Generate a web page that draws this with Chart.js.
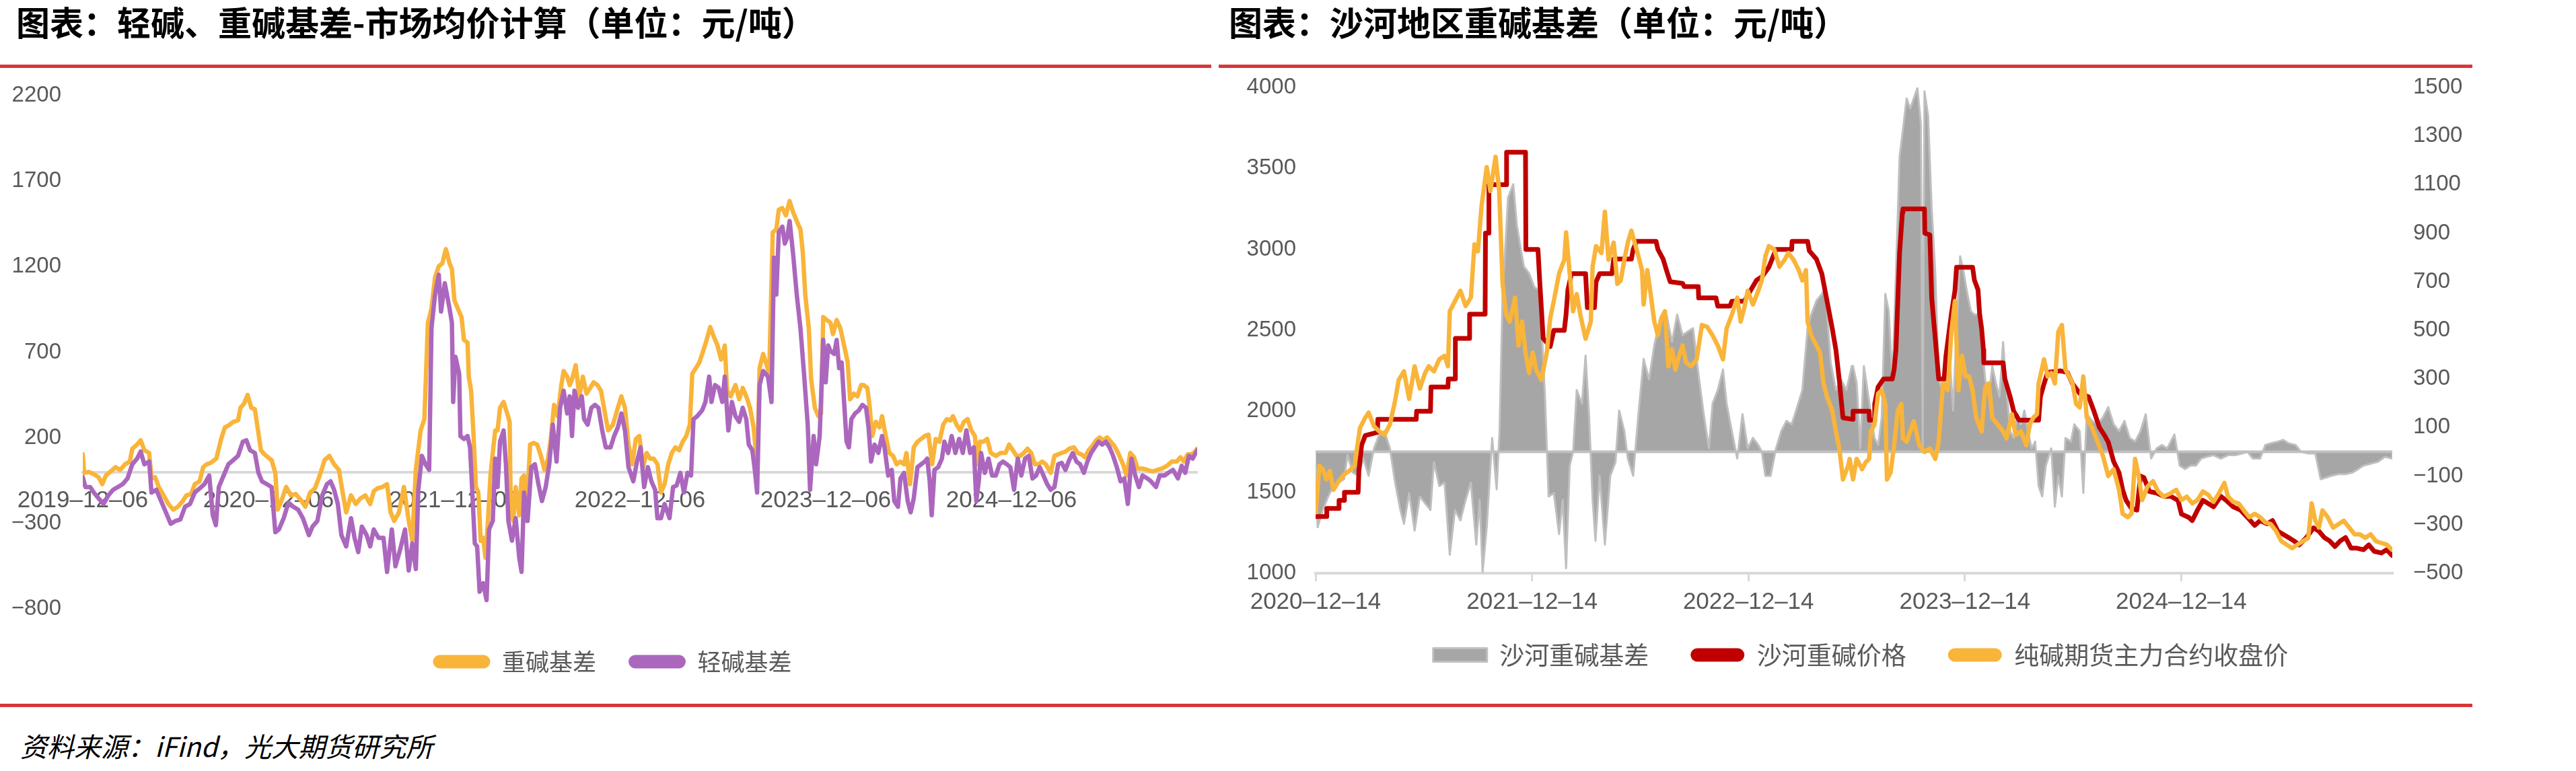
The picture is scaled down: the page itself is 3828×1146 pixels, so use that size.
<!DOCTYPE html>
<html>
<head>
<meta charset="utf-8">
<script src="https://cdn.jsdelivr.net/npm/chart.js@4.4.1/dist/chart.umd.min.js"></script>
<style>
  body { margin: 0; width: 3828px; height: 1146px; background: #fff; position: relative; overflow: hidden; }
  .title { position: absolute; top: 6px; font: bold 50px "Noto Sans CJK SC", sans-serif; color: #000; white-space: nowrap; line-height: 1; }
  .rule { position: absolute; height: 5px; background: #D7373B; }
  .source { position: absolute; left: 30px; top: 1088px; font: italic 40px "Noto Sans CJK SC", sans-serif; color: #000; white-space: nowrap; line-height: 1; }
  canvas { position: absolute; }
</style>
</head>
<body>
<div class="title" style="left:24px">图表：轻碱、重碱基差-市场均价计算（单位：元/吨）</div>
<div class="title" style="left:1826px">图表：沙河地区重碱基差（单位：元/吨）</div>
<div class="rule" style="left:0;top:96px;width:1800px"></div>
<div class="rule" style="left:1811px;top:96px;width:1863px"></div>
<div class="rule" style="left:0;top:1046px;width:3674px"></div>
<canvas id="leftChart" width="1820" height="921" style="left:0;top:90px"></canvas>
<canvas id="rightChart" width="2018" height="924" style="left:1810px;top:78px"></canvas>
<div class="source">资料来源：iFind，光大期货研究所</div>

<script>
// x values are months since the first date of each chart
const leftTickMonths = [0, 12, 24, 36, 48, 60];
const leftTickText = ["2019–12–06", "2020–12–06", "2021–12–06", "2022–12–06", "2023–12–06", "2024–12–06"];
const rightTickMonths = [0, 12, 24, 36, 48];
const rightTickText = ["2020–12–14", "2021–12–14", "2022–12–14", "2023–12–14", "2024–12–14"];

// 重碱基差
const heavyBasis = [[0,103],[0.09,-5],[0.40,0],[0.71,-13],[1.02,-30],[1.26,-71],[1.49,-21],[1.80,3],[2.11,28],[2.42,12],[2.73,45],[3.04,61],[3.20,136],[3.51,160],[3.74,185],[3.98,127],[4.29,111],[4.44,-38],[4.67,-30],[4.91,-88],[5.22,-137],[5.53,-187],[5.84,-220],[6.15,-203],[6.46,-170],[6.69,-137],[7.00,-129],[7.24,-71],[7.55,-55],[7.78,28],[8.01,45],[8.25,53],[8.63,78],[8.94,193],[9.18,260],[9.49,276],[9.72,293],[10.03,301],[10.19,375],[10.42,400],[10.65,450],[10.89,375],[11.12,367],[11.35,227],[11.51,127],[11.74,103],[11.97,86],[12.20,69],[12.44,-5],[12.59,-220],[12.83,-170],[13.14,-88],[13.45,-137],[13.76,-129],[14.07,-162],[14.38,-203],[14.69,-120],[15.00,-96],[15.31,-21],[15.62,69],[15.93,94],[16.24,45],[16.55,12],[16.79,-120],[17.02,-236],[17.33,-137],[17.64,-187],[17.95,-154],[18.26,-137],[18.57,-187],[18.80,-112],[19.04,-96],[19.35,-88],[19.66,-71],[19.89,-236],[20.12,-286],[20.43,-236],[20.75,-88],[21.06,-286],[21.29,-402],[21.52,12],[21.83,243],[22.07,309],[22.30,872],[22.53,954],[22.76,1136],[23.00,1202],[23.23,1219],[23.46,1302],[23.70,1219],[23.85,1186],[24.01,1004],[24.24,954],[24.47,905],[24.63,772],[24.86,756],[24.94,557],[25.09,475],[25.25,210],[25.40,-88],[25.56,-120],[25.71,-402],[25.87,-385],[26.02,-501],[26.18,-286],[26.34,-21],[26.49,111],[26.65,243],[26.80,243],[26.96,375],[27.19,409],[27.42,342],[27.58,293],[27.66,-253],[27.81,-286],[27.97,-88],[28.20,-253],[28.35,-38],[28.51,-21],[28.66,-286],[28.90,160],[29.13,169],[29.36,160],[29.60,94],[29.83,12],[30.06,78],[30.22,177],[30.45,392],[30.68,326],[30.92,508],[31.07,590],[31.30,557],[31.46,508],[31.61,541],[31.85,624],[32.08,442],[32.31,557],[32.55,458],[32.78,491],[33.01,524],[33.25,508],[33.48,475],[33.71,359],[33.94,243],[34.25,276],[34.57,375],[34.80,442],[35.03,375],[35.26,160],[35.50,45],[35.73,193],[35.96,210],[36.20,28],[36.43,111],[36.66,78],[36.89,78],[37.13,45],[37.36,-120],[37.59,-71],[37.83,45],[38.06,111],[38.29,144],[38.53,127],[38.76,177],[38.99,210],[39.22,276],[39.38,574],[39.61,607],[39.84,640],[40.08,706],[40.31,772],[40.54,847],[40.78,789],[41.01,739],[41.24,657],[41.48,739],[41.63,475],[41.86,442],[42.17,508],[42.41,425],[42.64,491],[42.87,442],[43.11,375],[43.34,260],[43.57,45],[43.73,607],[43.96,690],[44.19,624],[44.35,574],[44.58,1401],[44.81,1417],[44.97,1533],[45.20,1542],[45.43,1500],[45.67,1583],[45.90,1517],[46.13,1467],[46.37,1417],[46.52,1285],[46.68,1037],[46.91,839],[47.06,541],[47.30,375],[47.53,326],[47.70,342],[47.84,905],[48.08,888],[48.31,872],[48.47,806],[48.71,888],[48.95,839],[49.11,772],[49.27,706],[49.42,640],[49.58,425],[49.82,458],[50.05,442],[50.29,508],[50.45,508],[50.69,491],[50.85,375],[51.00,210],[51.24,293],[51.48,260],[51.64,326],[51.88,210],[52.11,111],[52.35,94],[52.58,45],[52.82,61],[53.06,45],[53.22,111],[53.45,-71],[53.69,144],[53.93,177],[54.17,193],[54.40,210],[54.64,218],[54.88,45],[55.11,193],[55.35,177],[55.59,276],[55.83,309],[56.06,301],[56.22,326],[56.46,276],[56.69,243],[56.93,293],[57.17,309],[57.41,243],[57.64,210],[57.80,45],[57.96,177],[58.20,177],[58.43,193],[58.67,111],[58.99,94],[59.30,111],[59.62,111],[59.85,160],[60.09,127],[60.33,94],[60.57,94],[60.80,111],[61.04,136],[61.28,111],[61.51,45],[61.75,45],[61.99,61],[62.22,45],[62.54,-5],[62.78,94],[63.02,103],[63.25,111],[63.49,119],[63.73,136],[64.04,144],[64.28,111],[64.52,103],[64.75,86],[64.99,127],[65.23,152],[65.47,185],[65.70,202],[65.94,185],[66.18,202],[66.42,177],[66.65,152],[66.89,111],[67.21,45],[67.44,-21],[67.68,111],[67.92,86],[68.15,20],[68.47,20],[68.79,12],[69.10,3],[69.42,12],[69.73,20],[70.05,36],[70.37,61],[70.68,61],[70.92,86],[71.15,61],[71.39,103],[71.63,103],[71.87,119],[72.00,136]];

// 轻碱基差
const lightBasis = [[0,-30],[0.17,-88],[0.48,-88],[0.71,-120],[1.02,-154],[1.34,-187],[1.65,-137],[1.96,-104],[2.27,-88],[2.58,-71],[2.89,-38],[3.20,45],[3.51,78],[3.74,119],[3.98,45],[4.29,61],[4.44,-120],[4.75,-104],[5.06,-170],[5.37,-236],[5.68,-303],[5.99,-286],[6.30,-278],[6.61,-203],[6.93,-187],[7.24,-120],[7.55,-96],[7.86,-71],[8.17,-21],[8.40,-253],[8.60,-311],[8.79,-88],[9.10,-21],[9.41,45],[9.72,69],[10.03,94],[10.34,177],[10.57,185],[10.81,127],[11.12,111],[11.35,-5],[11.58,-55],[11.89,-71],[12.20,-88],[12.44,-352],[12.67,-336],[12.98,-270],[13.29,-179],[13.60,-203],[13.91,-220],[14.22,-270],[14.61,-369],[14.84,-319],[15.16,-286],[15.47,-137],[15.78,-71],[16.01,-55],[16.24,-104],[16.48,-187],[16.71,-369],[17.02,-435],[17.33,-270],[17.56,-385],[17.80,-468],[18.03,-319],[18.34,-369],[18.57,-435],[18.80,-336],[19.11,-385],[19.43,-385],[19.66,-584],[19.97,-336],[20.20,-551],[20.51,-452],[20.82,-336],[21.06,-576],[21.29,-418],[21.52,-567],[21.68,-104],[21.91,94],[22.14,45],[22.38,12],[22.53,839],[22.76,1037],[23.00,1153],[23.15,938],[23.39,1103],[23.70,954],[23.85,872],[23.93,409],[24.08,673],[24.32,574],[24.40,210],[24.63,193],[24.86,210],[25.02,144],[25.17,-120],[25.33,-418],[25.48,-435],[25.64,-700],[25.87,-650],[26.09,-749],[26.25,-336],[26.49,-286],[26.65,78],[26.80,-88],[26.96,177],[27.19,243],[27.34,45],[27.50,-286],[27.73,-402],[27.97,-270],[28.20,-501],[28.35,-584],[28.51,-120],[28.74,-286],[28.98,28],[29.21,45],[29.44,-71],[29.67,-170],[29.91,-88],[30.14,45],[30.37,276],[30.61,61],[30.84,375],[31.07,475],[31.30,342],[31.46,442],[31.61,210],[31.77,475],[32.00,375],[32.24,442],[32.39,309],[32.62,276],[32.86,375],[33.09,392],[33.32,375],[33.56,243],[33.79,144],[34.10,144],[34.33,210],[34.57,260],[34.80,342],[35.03,243],[35.26,28],[35.57,-55],[35.81,61],[36.04,144],[36.27,-88],[36.51,28],[36.74,-55],[36.98,-104],[37.13,-270],[37.36,-270],[37.59,-187],[37.91,-270],[38.14,-88],[38.37,-79],[38.61,-5],[38.84,-120],[39.07,-5],[39.30,-21],[39.46,309],[39.70,326],[40.01,359],[40.23,409],[40.47,557],[40.62,409],[40.85,508],[41.09,491],[41.32,409],[41.48,557],[41.71,243],[41.94,409],[42.17,326],[42.41,293],[42.64,375],[42.87,309],[43.03,160],[43.26,127],[43.42,12],[43.57,-120],[43.73,508],[43.96,590],[44.27,557],[44.50,409],[44.66,1252],[44.81,1037],[44.97,1401],[45.20,1434],[45.36,1335],[45.51,1368],[45.67,1467],[45.90,1269],[46.13,1037],[46.37,839],[46.60,574],[46.84,276],[46.99,-104],[47.22,210],[47.38,45],[47.61,210],[47.84,772],[48.00,524],[48.16,739],[48.31,706],[48.55,690],[48.71,772],[48.87,607],[49.03,640],[49.19,409],[49.35,177],[49.50,144],[49.66,309],[49.90,342],[50.13,359],[50.37,392],[50.61,375],[50.77,260],[50.93,61],[51.16,160],[51.40,111],[51.64,210],[51.80,144],[52.04,-21],[52.27,12],[52.43,-170],[52.67,-203],[52.83,-38],[53.06,-5],[53.30,-170],[53.49,-236],[53.69,-154],[53.93,28],[54.17,45],[54.40,61],[54.56,78],[54.72,-55],[54.85,-253],[55.03,12],[55.27,28],[55.51,78],[55.67,177],[55.91,111],[56.14,210],[56.38,111],[56.62,193],[56.86,111],[57.09,243],[57.33,111],[57.57,144],[57.73,-170],[57.89,-55],[58.04,111],[58.28,-5],[58.52,78],[58.75,-21],[58.99,-21],[59.23,45],[59.46,61],[59.70,45],[59.93,28],[60.17,-104],[60.41,78],[60.64,-21],[60.88,78],[61.12,94],[61.36,-38],[61.59,-21],[61.83,28],[62.07,-21],[62.31,-71],[62.54,-104],[62.78,-88],[63.02,45],[63.25,53],[63.49,12],[63.73,69],[63.96,111],[64.20,61],[64.44,45],[64.68,-5],[64.91,61],[65.15,111],[65.39,144],[65.63,177],[65.86,160],[66.10,177],[66.34,144],[66.57,94],[66.81,28],[67.05,-55],[67.29,-38],[67.52,-187],[67.76,78],[68.00,-21],[68.24,-88],[68.47,-21],[68.79,-38],[69.02,-55],[69.34,-88],[69.58,-21],[69.89,-21],[70.13,-5],[70.44,12],[70.76,-38],[71.00,36],[71.23,-5],[71.47,94],[71.71,78],[72.00,127]];

// 沙河重碱基差 (right axis)
const shaheBasis = [[0.01,-57],[0.11,-311],[0.40,-240],[0.70,-184],[0.99,-141],[1.28,-127],[1.58,-113],[1.77,-14],[2.06,-85],[2.36,-99],[2.65,-28],[2.94,-99],[3.24,14],[3.53,71],[3.82,85],[4.12,14],[4.41,-127],[4.70,-240],[4.90,-297],[5.19,-170],[5.49,-325],[5.78,-184],[6.07,-212],[6.37,-240],[6.56,-42],[6.86,-141],[7.15,-127],[7.44,-424],[7.73,-240],[8.03,-283],[8.32,-198],[8.61,-127],[8.91,-382],[9.10,-198],[9.26,-495],[9.49,-311],[9.79,57],[10.04,-155],[10.20,85],[10.37,650],[10.67,1046],[10.96,1102],[11.16,933],[11.35,848],[11.55,763],[11.84,735],[12.13,678],[12.43,664],[12.72,226],[12.92,-184],[13.21,-170],[13.50,-339],[13.70,-198],[13.89,-480],[14.09,-57],[14.28,0],[14.48,254],[14.77,198],[14.97,396],[15.16,155],[15.36,-198],[15.52,-367],[15.75,-99],[16.04,-382],[16.34,-99],[16.63,-42],[16.83,170],[17.12,85],[17.31,-28],[17.61,-99],[17.90,155],[18.19,382],[18.49,297],[18.78,438],[19.07,537],[19.46,565],[19.76,452],[20.05,565],[20.35,480],[20.64,495],[20.93,509],[21.22,325],[21.52,155],[21.81,14],[22.01,198],[22.30,254],[22.59,339],[22.79,198],[23.08,85],[23.38,-28],[23.67,155],[23.96,14],[24.25,57],[24.55,28],[24.74,0],[24.94,-99],[25.23,-99],[25.53,14],[25.82,85],[26.11,127],[26.40,113],[26.70,184],[26.99,254],[27.28,509],[27.48,565],[27.77,622],[28.07,650],[28.26,678],[28.56,367],[28.85,254],[29.14,297],[29.43,254],[29.73,353],[29.80,353],[30.00,283],[30.20,14],[30.40,353],[30.60,254],[30.79,155],[30.99,57],[31.19,28],[31.39,141],[31.59,650],[31.78,579],[31.98,297],[32.18,735],[32.38,1215],[32.57,1328],[32.77,1455],[32.97,1413],[33.17,1455],[33.37,1498],[33.56,1350],[33.66,14],[33.76,1484],[33.96,1385],[34.16,1003],[34.36,735],[34.55,297],[34.75,254],[34.95,297],[35.15,396],[35.35,170],[35.54,509],[35.74,805],[35.94,735],[36.14,650],[36.34,579],[36.53,565],[36.73,565],[36.93,466],[37.13,297],[37.33,226],[37.52,353],[37.72,283],[37.92,226],[38.12,452],[38.31,254],[38.51,85],[38.71,57],[38.91,155],[39.11,113],[39.30,170],[39.50,85],[39.70,14],[39.90,42],[40.09,-141],[40.29,-184],[40.49,-57],[40.79,14],[40.99,-226],[41.18,-99],[41.38,-184],[41.58,57],[41.88,42],[42.07,113],[42.37,85],[42.57,-170],[42.76,155],[43.06,127],[43.36,113],[43.65,141],[43.95,184],[44.25,113],[44.55,85],[44.85,127],[45.14,57],[45.44,42],[45.74,85],[46.03,155],[46.33,-28],[46.63,14],[46.92,28],[47.22,14],[47.62,71],[47.91,-57],[48.21,-71],[48.51,-57],[48.81,-57],[49.10,-28],[49.40,-21],[49.79,-14],[50.19,-28],[50.59,-14],[50.98,-14],[51.38,-7],[51.67,0],[51.97,-28],[52.37,-28],[52.66,28],[52.96,35],[53.35,42],[53.65,49],[53.95,35],[54.34,28],[54.64,0],[55.04,-7],[55.43,-7],[55.73,-113],[56.03,-106],[56.32,-99],[56.72,-92],[57.11,-92],[57.51,-85],[57.81,-71],[58.10,-57],[58.50,-49],[58.89,-42],[59.29,-21],[59.69,-28]];

// 沙河重碱价格
const shahePrice = [[0,1350],[0.60,1350],[0.62,1400],[1.28,1400],[1.30,1450],[1.58,1450],[1.60,1500],[2.36,1500],[2.40,1630],[2.55,1790],[2.75,1850],[3.43,1870],[3.45,1950],[5.58,1950],[5.60,2000],[6.37,2000],[6.40,2150],[7.34,2150],[7.36,2200],[7.73,2200],[7.75,2450],[8.52,2450],[8.54,2600],[9.40,2600],[9.42,3100],[9.59,3100],[9.61,3400],[10.57,3400],[10.59,3600],[11.64,3600],[11.66,3000],[12.33,3000],[12.43,2800],[12.62,2450],[13.01,2400],[13.21,2500],[13.79,2500],[13.89,2600],[13.99,2750],[14.19,2850],[14.97,2850],[15.07,2640],[15.46,2640],[15.55,2800],[15.75,2850],[16.43,2850],[16.53,2940],[17.51,2940],[17.61,3000],[17.80,3050],[18.88,3050],[18.98,3000],[19.27,2940],[19.46,2870],[19.66,2800],[20.35,2790],[20.44,2770],[21.22,2770],[21.24,2700],[22.20,2700],[22.30,2650],[22.98,2650],[23.08,2680],[23.77,2680],[24.45,2810],[24.74,2830],[25.13,2890],[25.53,3000],[26.40,3000],[26.42,3050],[27.28,3050],[27.38,2990],[27.77,2940],[28.07,2850],[28.36,2680],[28.65,2510],[28.85,2380],[29.04,2190],[29.24,1960],[29.78,1950],[29.80,2000],[30.69,2000],[30.71,1945],[30.99,1945],[31.00,2045],[31.19,2150],[31.49,2200],[31.98,2200],[32.08,2260],[32.18,2380],[32.38,2980],[32.54,3230],[32.57,3250],[33.76,3250],[33.78,3100],[34.06,3090],[34.16,2700],[34.36,2450],[34.55,2200],[34.85,2200],[34.95,2340],[35.25,2600],[35.45,2745],[35.54,2890],[36.43,2890],[36.53,2810],[36.73,2750],[36.82,2600],[36.93,2510],[37.03,2380],[37.05,2300],[38.12,2300],[38.22,2200],[38.51,2090],[38.71,2000],[39.01,1945],[40.09,1945],[40.19,2090],[40.39,2170],[40.59,2240],[41.28,2250],[41.68,2240],[41.97,2170],[42.37,2110],[42.86,2090],[43.16,2000],[43.46,1900],[43.75,1850],[43.95,1810],[44.25,1690],[44.55,1620],[44.75,1515],[44.94,1450],[45.24,1400],[45.54,1390],[45.74,1600],[45.93,1590],[46.23,1505],[46.63,1495],[47.02,1475],[47.42,1475],[47.82,1450],[48.01,1365],[48.41,1345],[48.61,1325],[48.90,1390],[49.20,1450],[49.50,1430],[49.79,1410],[50.19,1475],[50.49,1450],[50.88,1410],[51.28,1390],[51.67,1345],[52.07,1295],[52.37,1325],[52.76,1305],[53.06,1325],[53.35,1260],[53.65,1240],[53.95,1220],[54.24,1200],[54.54,1175],[54.94,1220],[55.33,1280],[55.63,1260],[55.93,1220],[56.22,1200],[56.52,1165],[56.82,1200],[57.11,1220],[57.41,1155],[57.71,1155],[58.10,1145],[58.40,1175],[58.70,1135],[59.09,1125],[59.39,1145],[59.69,1110]];

// 纯碱期货主力合约收盘价
const futuresClose = [[0.01,1377],[0.21,1664],[0.40,1642],[0.60,1579],[0.79,1632],[0.99,1515],[1.28,1568],[1.58,1610],[1.87,1632],[2.16,1664],[2.46,1897],[2.75,1960],[2.94,1992],[3.24,1907],[3.53,1876],[3.82,1854],[4.12,1918],[4.41,2066],[4.61,2194],[4.90,2247],[5.19,2077],[5.49,2278],[5.78,2141],[6.07,2236],[6.27,2278],[6.56,2247],[6.86,2321],[7.15,2342],[7.34,2278],[7.44,2618],[7.73,2681],[8.03,2745],[8.32,2650],[8.61,2702],[8.81,3031],[9.00,2988],[9.20,3266],[9.49,3508],[9.69,3360],[9.98,3572],[10.18,3360],[10.37,2787],[10.57,2596],[10.76,2554],[11.06,2702],[11.25,2406],[11.45,2554],[11.64,2363],[11.84,2236],[12.04,2363],[12.23,2257],[12.52,2194],[12.82,2363],[13.01,2575],[13.21,2681],[13.50,2851],[13.79,2936],[13.89,3105],[14.09,2851],[14.28,2618],[14.48,2724],[14.68,2596],[14.97,2448],[15.26,2554],[15.36,2893],[15.55,3020],[15.85,2978],[16.04,3232],[16.24,2936],[16.53,3042],[16.73,2787],[16.92,2808],[17.12,2936],[17.31,3042],[17.51,3116],[17.80,3000],[18.10,2872],[18.19,2660],[18.39,2872],[18.58,2724],[18.78,2554],[18.98,2469],[19.17,2575],[19.37,2618],[19.56,2278],[19.76,2384],[19.95,2257],[20.15,2342],[20.35,2406],[20.54,2300],[20.83,2278],[21.13,2321],[21.42,2533],[21.71,2522],[22.01,2469],[22.30,2406],[22.59,2321],[22.79,2512],[23.08,2596],[23.38,2702],[23.57,2554],[23.77,2639],[23.96,2745],[24.25,2660],[24.55,2745],[24.74,2808],[24.94,2957],[25.13,3020],[25.43,3000],[25.72,2893],[26.01,2936],[26.21,2978],[26.50,2936],[26.79,2872],[26.99,2808],[27.19,2872],[27.28,2554],[27.48,2469],[27.77,2406],[27.97,2363],[28.16,2172],[28.36,2088],[28.65,2003],[28.85,1876],[29.04,1770],[29.24,1579],[29.53,1664],[29.61,1706],[29.80,1579],[30.00,1706],[30.30,1642],[30.50,1685],[30.69,1706],[30.79,1876],[30.99,1918],[31.19,2109],[31.39,2130],[31.59,2045],[31.68,1579],[31.88,1621],[32.08,1791],[32.28,2003],[32.48,2045],[32.57,1833],[32.77,1812],[32.97,1876],[33.17,1939],[33.47,1791],[33.76,1749],[34.06,1770],[34.36,1706],[34.55,1812],[34.79,2172],[35.05,2130],[35.25,2490],[35.45,2681],[35.64,2130],[35.84,2342],[36.04,2215],[36.24,2215],[36.43,2130],[36.63,1961],[36.93,1876],[37.13,2151],[37.33,2172],[37.52,1961],[37.82,1918],[38.12,1876],[38.31,1833],[38.61,1982],[38.81,1854],[39.11,1876],[39.40,1791],[39.60,1918],[39.80,1961],[40.00,1982],[40.09,2172],[40.39,2321],[40.59,2215],[40.79,2236],[40.99,2172],[41.18,2490],[41.38,2533],[41.58,2257],[41.78,2215],[41.97,2172],[42.17,2045],[42.37,2024],[42.57,2215],[42.76,1961],[43.06,1897],[43.36,1812],[43.65,1727],[43.95,1600],[44.25,1642],[44.55,1515],[44.75,1367],[45.04,1346],[45.24,1367],[45.44,1706],[45.64,1600],[45.83,1452],[46.13,1536],[46.43,1568],[46.72,1505],[47.02,1473],[47.42,1494],[47.72,1515],[48.01,1452],[48.31,1473],[48.61,1431],[48.90,1452],[49.20,1505],[49.50,1484],[49.79,1441],[50.09,1494],[50.39,1558],[50.59,1473],[50.88,1441],[51.18,1431],[51.47,1388],[51.77,1346],[52.07,1367],[52.37,1346],[52.66,1314],[52.96,1303],[53.25,1261],[53.55,1197],[53.85,1176],[54.15,1155],[54.44,1176],[54.74,1197],[55.04,1218],[55.23,1431],[55.43,1324],[55.63,1282],[55.83,1388],[56.12,1346],[56.42,1282],[56.72,1303],[57.01,1324],[57.31,1282],[57.61,1240],[57.90,1240],[58.20,1218],[58.50,1240],[58.80,1197],[59.09,1187],[59.39,1176],[59.69,1144]];

const ORANGE = '#F9B43A', PURPLE = '#AB67BD', RED = '#C00000', GREY = '#A6A6A6', GREY_EDGE = '#BFBFBF';
const tickFont = { family: '"Liberation Sans", Arial, sans-serif', size: 33 };
const dateFont = { family: '"Liberation Sans", Arial, sans-serif', size: 35 };
const tickColor = '#595959';
const minus = v => String(v).replace('-', '\u2212');

function legendItems(chart) {
  return Chart.defaults.plugins.legend.labels.generateLabels(chart).map(item => {
    const ds = chart.data.datasets[item.datasetIndex];
    if (ds.fill) {
      item.borderRadius = 0;
      item.lineWidth = 3;
    } else {
      item.borderRadius = 10;
      item.lineWidth = 0;
      item.fillStyle = ds.borderColor;
    }
    return item;
  });
}

// empty axis used only to reserve space in the layout
const spacer = (position, size) => ({
  type: 'linear', position, display: true,
  ticks: { display: false }, grid: { display: false, drawTicks: false }, border: { display: false },
  afterFit: s => { if (s.isHorizontal()) s.height = size; else s.width = size; }
});

const baseLine = { tension: 0, borderJoinStyle: 'round', borderCapStyle: 'round' };

// 左图：轻碱、重碱基差
new Chart(document.getElementById('leftChart'), {
  type: 'line',
  data: {
    datasets: [
      { label: '重碱基差', data: heavyBasis, xAxisID: 'x', yAxisID: 'y', borderColor: ORANGE, backgroundColor: ORANGE, borderWidth: 6.5, fill: false, order: 2 },
      { label: '轻碱基差', data: lightBasis, xAxisID: 'x', yAxisID: 'y', borderColor: PURPLE, backgroundColor: PURPLE, borderWidth: 6.5, fill: false, order: 1 }
    ]
  },
  options: {
    responsive: false,
    animation: false,
    devicePixelRatio: 1,
    layout: { padding: { left: 0, right: 0, top: 52, bottom: 0 } },
    elements: { point: { radius: 0 }, line: baseLine },
    scales: {
      x: {
        type: 'linear', min: 0, max: 72,
        position: { y: 0 },
        afterBuildTicks: s => { s.ticks = leftTickMonths.map(v => ({ value: v })); },
        ticks: { callback: v => leftTickText[leftTickMonths.indexOf(v)], padding: 22, maxRotation: 0, autoSkip: false, font: dateFont, color: tickColor },
        grid: { display: false, drawTicks: false },
        border: { display: true, color: '#D9D9D9', width: 4 }
      },
      y: {
        position: 'left', min: -800, max: 2200,
        ticks: { stepSize: 500, padding: 32, callback: minus, font: tickFont, color: tickColor },
        grid: { display: false, drawTicks: false },
        border: { display: false },
        afterFit: s => { s.width = 123; }
      },
      xb: spacer('bottom', 13),
      yr: spacer('right', 41)
    },
    plugins: {
      tooltip: { enabled: false },
      legend: {
        position: 'bottom',
        labels: {
          generateLabels: legendItems,
          sort: (a, b) => a.datasetIndex - b.datasetIndex,
          boxWidth: 85, boxHeight: 20, padding: 48,
          color: '#595959',
          font: { family: '"Noto Sans CJK SC", sans-serif', size: 35 }
        }
      }
    }
  }
});

// 沙河零轴线，画在基差面积之上
const zeroLine = {
  id: 'zeroLine',
  afterDatasetDraw(chart, args) {
    if (args.index !== 0) return;
    const { ctx, chartArea } = chart;
    const y = chart.scales.y1.getPixelForValue(0);
    ctx.save();
    ctx.strokeStyle = GREY_EDGE;
    ctx.lineWidth = 4;
    ctx.beginPath();
    ctx.moveTo(chartArea.left, y);
    ctx.lineTo(chartArea.right, y);
    ctx.stroke();
    ctx.restore();
  }
};

// 右图：沙河地区重碱基差
new Chart(document.getElementById('rightChart'), {
  type: 'line',
  data: {
    datasets: [
      { label: '沙河重碱基差', data: shaheBasis, xAxisID: 'x', yAxisID: 'y1', borderColor: GREY_EDGE, backgroundColor: GREY, borderWidth: 3, fill: 'origin', order: 3 },
      { label: '沙河重碱价格', data: shahePrice, xAxisID: 'x', yAxisID: 'y', borderColor: RED, backgroundColor: RED, borderWidth: 7, fill: false, order: 2 },
      { label: '纯碱期货主力合约收盘价', data: futuresClose, xAxisID: 'x', yAxisID: 'y', borderColor: ORANGE, backgroundColor: ORANGE, borderWidth: 6.5, fill: false, order: 1 }
    ]
  },
  plugins: [zeroLine],
  options: {
    responsive: false,
    animation: false,
    devicePixelRatio: 1,
    layout: { padding: { left: 0, right: 108, top: 52, bottom: 0 } },
    elements: { point: { radius: 0 }, line: baseLine },
    scales: {
      x: {
        type: 'linear', min: 0, max: 59.7,
        position: { y: 1000 },
        afterBuildTicks: s => { s.ticks = rightTickMonths.map(v => ({ value: v })); },
        ticks: { callback: v => rightTickText[rightTickMonths.indexOf(v)], padding: 12, maxRotation: 0, autoSkip: false, font: dateFont, color: tickColor },
        grid: { display: true, drawOnChartArea: false, drawTicks: true, tickLength: 10, color: '#D9D9D9', lineWidth: 3 },
        border: { display: true, color: '#D9D9D9', width: 4 }
      },
      y: {
        position: 'left', min: 1000, max: 4000,
        ticks: { stepSize: 500, padding: 29, font: tickFont, color: tickColor, callback: minus },
        grid: { display: false, drawTicks: false },
        border: { display: false },
        afterFit: s => { s.width = 145; }
      },
      y1: {
        position: 'right', min: -500, max: 1500,
        ticks: { stepSize: 200, padding: 31, font: tickFont, color: tickColor, callback: minus },
        grid: { display: false, drawTicks: false },
        border: { display: false },
        afterFit: s => { s.width = 165; }
      },
      xb: spacer('bottom', 41)
    },
    plugins: {
      tooltip: { enabled: false },
      legend: {
        position: 'bottom',
        labels: {
          generateLabels: legendItems,
          sort: (a, b) => a.datasetIndex - b.datasetIndex,
          boxWidth: 80, boxHeight: 20, padding: 62,
          color: '#595959',
          font: { family: '"Noto Sans CJK SC", sans-serif', size: 37 }
        }
      }
    }
  }
});
</script>
</body>
</html>
